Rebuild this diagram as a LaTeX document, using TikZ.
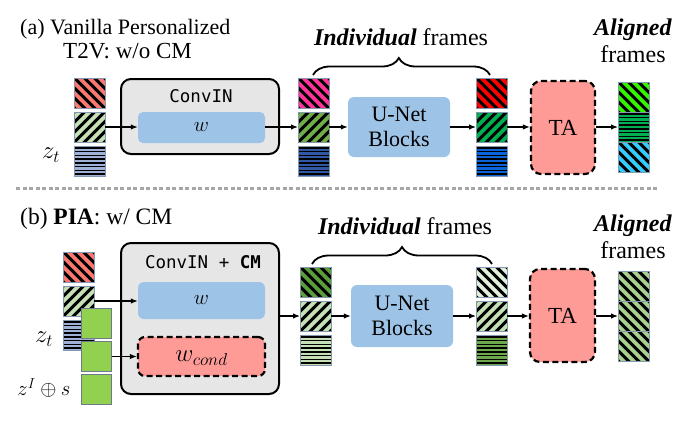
\documentclass[tikz,border=0pt]{standalone}
\usepackage{fontspec}
\setmainfont{Liberation Serif}
\newfontfamily\monof{DejaVu Sans Mono}
\usetikzlibrary{arrows.meta,decorations.pathreplacing}
\definecolor{cellbd}{HTML}{8497B0}
\definecolor{salm}{HTML}{FA786E}
\definecolor{lgrn}{HTML}{C5E0B4}
\definecolor{gblue}{HTML}{9FB1D6}
\definecolor{pinkc}{HTML}{FF3399}
\definecolor{olive}{HTML}{70AD47}
\definecolor{dblue}{HTML}{3358A3}
\definecolor{redc}{HTML}{FF0000}
\definecolor{grnc}{HTML}{00B050}
\definecolor{bluec}{HTML}{0A64D8}
\definecolor{bgrn}{HTML}{33F500}
\definecolor{cyanc}{HTML}{33CCFF}
\definecolor{dgrn}{HTML}{5A9E3A}
\definecolor{vlgrn}{HTML}{E2F0D9}
\definecolor{mgrn}{HTML}{6DA84A}
\definecolor{agrn}{HTML}{A9D18E}
\definecolor{sqgrn}{HTML}{92D050}
\definecolor{sqbd}{HTML}{6C7A89}
\definecolor{convfill}{HTML}{E7E6E6}
\definecolor{boxblue}{HTML}{9DC3E6}
\definecolor{tared}{HTML}{FF9B97}
\definecolor{sepgray}{HTML}{A6A6A6}
\tikzset{
  cellbox/.style={draw=cellbd, line width=0.9pt, minimum width=31pt, minimum height=30pt, inner sep=0pt, outer sep=0pt, anchor=north west},
  dn/.style={cellbox, fill=#1, path picture={\foreach \i in {-50,-40,-30,-20,-10,0,10,20,30,40,50}{\draw[black,line width=3pt] (path picture bounding box.center) ++(\i pt,0pt) ++(-25pt,25pt) -- ++(50pt,-50pt);}}},
  up/.style={cellbox, fill=#1, path picture={\foreach \i in {-50,-40,-30,-20,-10,0,10,20,30,40,50}{\draw[black,line width=3pt] (path picture bounding box.center) ++(\i pt,0pt) ++(-25pt,-25pt) -- ++(50pt,50pt);}}},
  hz/.style={cellbox, fill=#1, path picture={\foreach \i in {-13.125,-9.375,-5.625,-1.875,1.875,5.625,9.375,13.125}{\draw[black,line width=1.6pt] (path picture bounding box.center) ++(-20pt,\i pt) -- ++(40pt,0pt);}}},
  sq/.style={draw=sqbd, fill=sqgrn, line width=1pt, minimum width=30pt, minimum height=30pt, inner sep=0pt, anchor=north west},
  conv/.style={draw=black, fill=convfill, line width=2pt, rounded corners=10pt, inner sep=0pt},
  bbox/.style={fill=boxblue, rounded corners=6pt, inner sep=0pt, align=center},
  tabox/.style={draw=black, fill=tared, line width=2.2pt, dash pattern=on 6pt off 3.5pt, rounded corners=10pt, inner sep=0pt},
  ttl/.style={font=\fontsize{24}{28}\selectfont, inner sep=0pt},
  mono/.style={font=\monof\fontsize{17.5}{20}\selectfont, inner sep=0pt},
  mth/.style={font=\fontsize{22}{25}\selectfont, inner sep=0pt},
  arr/.style={-{Latex[length=7pt,width=5.5pt]}, line width=1.2pt},
  brc/.style={decorate, decoration={brace, amplitude=17pt, aspect=#1}, line width=1.8pt},
  sepline/.style={draw=sepgray, line width=3pt, dash pattern=on 4pt off 2.5pt}
}
\begin{document}
\begin{tikzpicture}[x=1pt,y=-1pt]
\useasboundingbox (0,0) rectangle (693,426);

% ---------------- (a) ----------------
\node[ttl, font=\fontsize{22}{26}\selectfont, anchor=base west] (tA1) at (20,34) {(a) Vanilla Personalized};
\node[ttl, font=\fontsize{23}{26}\selectfont, anchor=base west] (tA2) at (63,58.5) {T2V: w/o CM};
\node[ttl, anchor=base] (ifA) at (401,45.5) {\textbf{\textit{Individual}} frames};
\node[ttl, anchor=base] (alA) at (633,35) {\textbf{\textit{Aligned}}};
\node[ttl, anchor=base] (frA) at (633,62) {frames};

\node[conv, minimum width=158pt, minimum height=75pt] (cA) at (200,116.5) {};
\node[mono] (cAt) at (201,96) {ConvIN};
\node[bbox, minimum width=127pt, minimum height=31pt, rounded corners=5pt] (wA) at (201.5,127.5) {};
\node[mth] (wAt) at (201.5,127.5) {$w$};

\node[dn=salm] (a1t) at (74,78) {};
\node[up=lgrn] (a1m) at (74,112) {};
\node[hz=gblue] (a1b) at (74,146) {};
\node[mth, font=\fontsize{23}{26}\selectfont] (ztA) at (51,155) {$z_t$};

\node[dn=pinkc] (a2t) at (298,78) {};
\node[up=olive] (a2m) at (298,112) {};
\node[hz=dblue] (a2b) at (298,146) {};

\node[bbox, minimum width=102pt, minimum height=60pt, font=\fontsize{22}{25}\selectfont] (uA) at (399,127) {U-Net\\Blocks};

\node[dn=redc] (a3t) at (476,78) {};
\node[up=grnc] (a3m) at (476,112) {};
\node[hz=bluec] (a3b) at (476,146) {};

\node[tabox, minimum width=64pt, minimum height=93pt, font=\fontsize{23}{26}\selectfont] (taA) at (563,127.5) {TA};

\node[dn=bgrn] (a4t) at (618,82) {};
\node[hz=grnc] (a4m) at (618,112) {};
\node[dn=cyanc] (a4b) at (618,142) {};

\coordinate (brAL) at (313,75);
\coordinate (brAR) at (490,75);
\draw[brc=0.485] (brAL) -- (brAR);

\draw[arr] (a1m.east) -- (a1m.east -| wA.west);
\draw[arr] (wA.east |- a2m.west) -- (a2m.west);
\draw[arr] (a2m.east) -- (a2m.east -| uA.west);
\draw[arr] (uA.east |- a3m.west) -- (a3m.west);
\draw[arr] (a3m.east) -- (a3m.east -| taA.west);
\draw[arr] (taA.east |- a4m.west) -- (a4m.west);

% separator
\coordinate (sepL) at (16,188);
\coordinate (sepR) at (658,188);
\draw[sepline] (sepL) -- (sepR);

% ---------------- (b) ----------------
\node[ttl, font=\fontsize{23.5}{27}\selectfont, anchor=base west] (tB) at (20,224) {(b) \textbf{PIA}: w/ CM};
\node[ttl, anchor=base] (ifB) at (405,234) {\textbf{\textit{Individual}} frames};
\node[ttl, anchor=base] (alB) at (633,231) {\textbf{\textit{Aligned}}};
\node[ttl, anchor=base] (frB) at (633,258.5) {frames};

\node[conv, minimum width=158pt, minimum height=151pt] (cB) at (200,318.5) {};
\node[mono] (cBt) at (203,262) {ConvIN + \textbf{CM}};
\node[bbox, minimum width=127pt, minimum height=37pt] (wB) at (201.5,300.5) {};
\node[mth] (wBt) at (201.5,300.5) {$w$};
\node[tabox, minimum width=127pt, minimum height=39pt, rounded corners=7pt] (wC) at (201.5,356.5) {};
\node[mth, font=\fontsize{24}{27}\selectfont] (wCt) at (201.5,358) {$w_{cond}$};

\node[dn=salm] (b1t) at (63,252) {};
\node[up=lgrn] (b1m) at (63,286) {};
\node[hz=gblue] (b1b) at (63,320) {};
\node[sq] (g1) at (81,308) {};
\node[sq] (g2) at (81,341) {};
\node[sq] (g3) at (81,374) {};
\node[mth, font=\fontsize{23}{26}\selectfont] (ztB) at (44,339) {$z_t$};
\node[mth] (zIB) at (44,388) {$z^I\oplus s$};

\node[dn=dgrn] (b2t) at (300,267) {};
\node[up=lgrn] (b2m) at (300,301) {};
\node[hz=lgrn] (b2b) at (300,335) {};

\node[bbox, minimum width=102pt, minimum height=62pt, font=\fontsize{22}{25}\selectfont] (uB) at (402,316) {U-Net\\Blocks};

\node[dn=vlgrn] (b3t) at (476,267) {};
\node[up=lgrn] (b3m) at (476,301) {};
\node[hz=mgrn] (b3b) at (476,335) {};

\node[tabox, minimum width=65pt, minimum height=93pt, font=\fontsize{23}{26}\selectfont] (taB) at (562.5,315.5) {TA};

\node[dn=agrn] (b4t) at (618,271) {};
\node[dn=agrn] (b4m) at (618,301) {};
\node[dn=agrn] (b4b) at (618,331) {};

\coordinate (brBL) at (312,264);
\coordinate (brBR) at (492,264);
\draw[brc=0.5] (brBL) -- (brBR);

\draw[arr] (b1m.east) -- (b1m.east -| wB.west);
\draw[arr] (g2.east) -- (g2.east -| wC.west);
\draw[arr] (cB.east |- b2m.west) -- (b2m.west);
\draw[arr] (b2m.east) -- (b2m.east -| uB.west);
\draw[arr] (uB.east |- b3m.west) -- (b3m.west);
\draw[arr] (b3m.east) -- (b3m.east -| taB.west);
\draw[arr] (taB.east |- b4m.west) -- (b4m.west);
\end{tikzpicture}
\end{document}
